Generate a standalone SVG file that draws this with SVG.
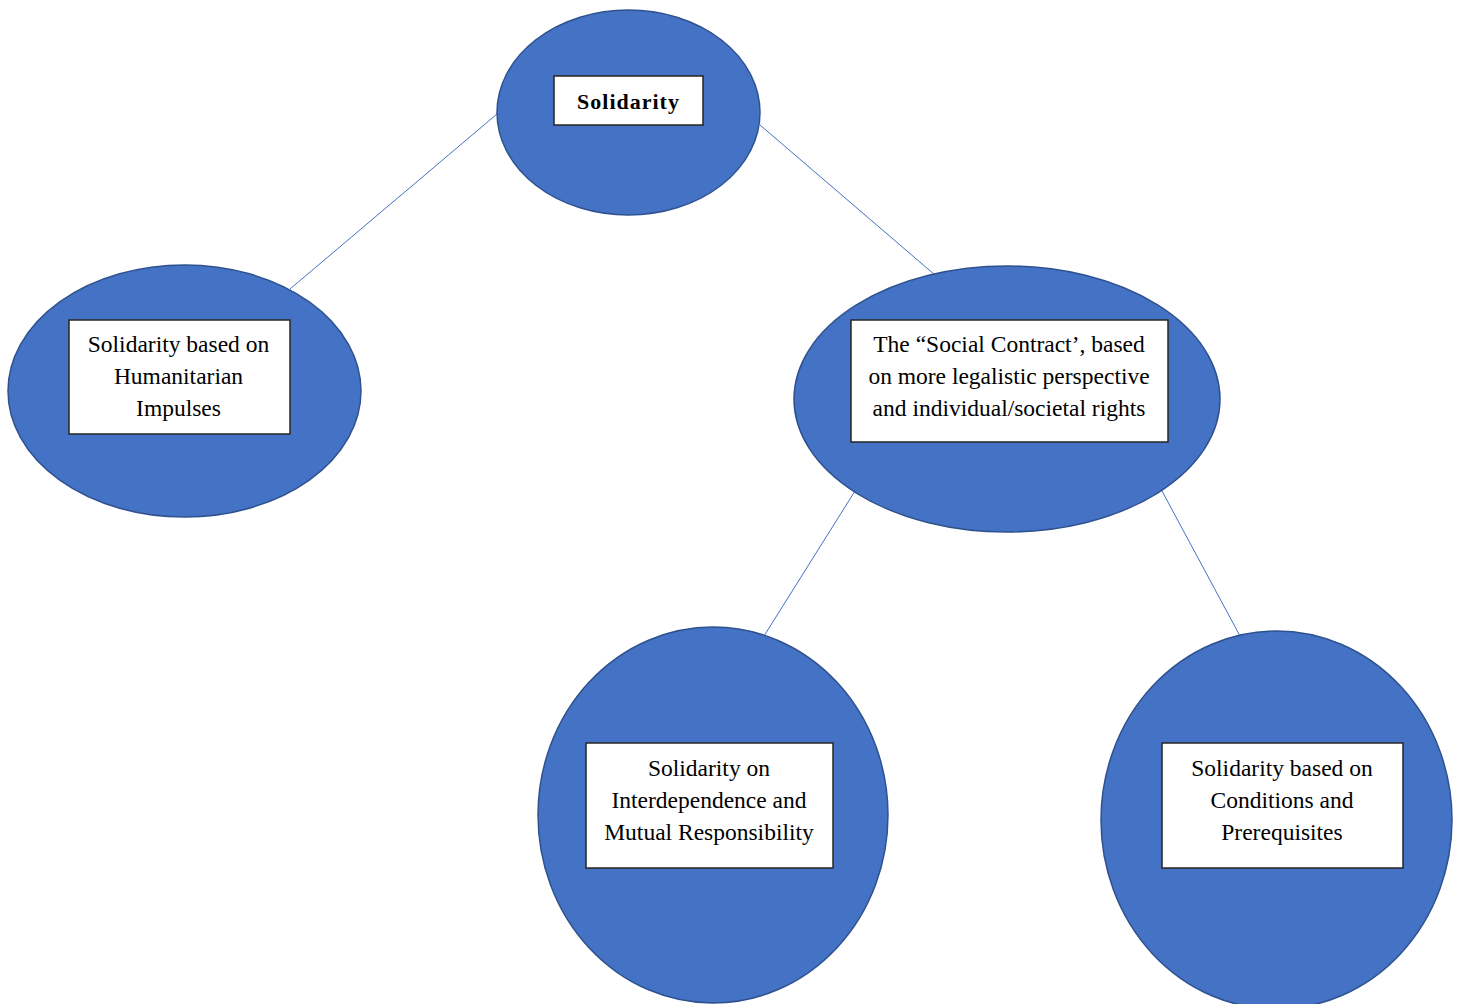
<svg xmlns="http://www.w3.org/2000/svg" width="1458" height="1004" viewBox="0 0 1458 1004">
<style>
.node{fill:#4472c4;stroke:#2f528f;stroke-width:1.5}
.box{fill:#ffffff;stroke:#262626;stroke-width:1.5}
.t{font-family:'Liberation Serif',serif;font-size:23.5px;fill:#000;text-anchor:middle}
.b{font-size:22px;font-weight:bold;letter-spacing:1px}
.edge{stroke:#4472c4;stroke-width:1;fill:none}
</style>
<rect width="1458" height="1004" fill="#ffffff"/>
<g id="connectors">
<line class="edge" x1="497" y1="114" x2="290" y2="289"/>
<line class="edge" x1="760" y1="125" x2="935" y2="275"/>
<line class="edge" x1="855" y1="491" x2="764" y2="636"/>
<line class="edge" x1="1162" y1="491" x2="1240" y2="636"/>
</g>
<g id="n-solidarity">
<ellipse class="node" cx="628.5" cy="112.5" rx="131.5" ry="102.5"/>
<rect class="box" x="554" y="76" width="149" height="49"/>
<text class="t b" x="628.5" y="109">Solidarity</text>
</g>
<g id="n-humanitarian">
<ellipse class="node" cx="184.5" cy="391" rx="176.5" ry="126"/>
<rect class="box" x="69" y="320" width="221" height="114"/>
<text class="t" x="178.5" y="352">Solidarity based on</text>
<text class="t" x="178.5" y="384">Humanitarian</text>
<text class="t" x="178.5" y="416">Impulses</text>
</g>
<g id="n-social-contract">
<ellipse class="node" cx="1007" cy="399" rx="213" ry="133"/>
<rect class="box" x="851" y="320" width="317" height="122"/>
<text class="t" x="1009" y="352">The “Social Contract’, based</text>
<text class="t" x="1009" y="384">on more legalistic perspective</text>
<text class="t" x="1009" y="416">and individual/societal rights</text>
</g>
<g id="n-interdependence">
<ellipse class="node" cx="713" cy="815" rx="175" ry="188"/>
<rect class="box" x="586" y="743" width="247" height="125"/>
<text class="t" x="709" y="776">Solidarity on</text>
<text class="t" x="709" y="808">Interdependence and</text>
<text class="t" x="709" y="840">Mutual Responsibility</text>
</g>
<g id="n-conditions">
<ellipse class="node" cx="1276.5" cy="820" rx="175.5" ry="189"/>
<rect class="box" x="1162" y="743" width="241" height="125"/>
<text class="t" x="1282" y="776">Solidarity based on</text>
<text class="t" x="1282" y="808">Conditions and</text>
<text class="t" x="1282" y="840">Prerequisites</text>
</g>
</svg>
